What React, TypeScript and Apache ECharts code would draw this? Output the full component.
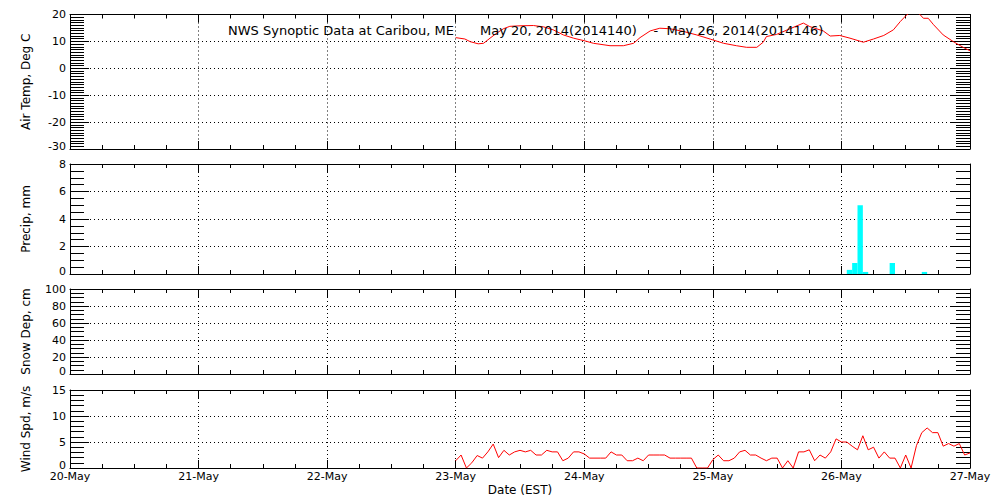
import React, { useEffect, useRef } from 'react';
import * as echarts from 'echarts';

// ---- Data (hours since 20-May 00:00 EST) ----
const dayLabels = ['20-May', '21-May', '22-May', '23-May', '24-May', '25-May', '26-May', '27-May'];

const tempHours = [
  72.0, 73.7, 74.7, 76.2, 77.2, 78.4, 79.6, 80.9, 82.1, 84.0, 86.5, 88.4, 90.2, 92.1, 94.0,
  96.1, 97.7, 100.8, 103.3, 105.2, 106.4, 108.3, 110.1, 112.0, 114.5, 117.0, 119.6, 122.0,
  124.4, 126.3, 128.2, 129.4, 130.0, 131.9, 134.4, 136.9, 138.1, 140.6, 141.9, 143.7, 145.6,
  148.1, 150.0, 151.9, 153.7, 155.0, 156.2, 157.0, 158.2, 158.7, 159.3, 160.2, 161.2, 163.0,
  164.9, 166.8, 168.0,
];
const tempValues = [
  11.4, 10.9, 9.9, 9.1, 9.3, 11.2, 13.0, 14.7, 15.6, 15.8, 15.9, 15.4, 14.3, 12.4, 11.2,
  10.2, 9.3, 8.4, 8.4, 9.3, 11.4, 13.9, 14.9, 14.7, 13.7, 12.4, 10.8, 9.3,
  8.4, 7.8, 7.8, 9.7, 11.8, 12.6, 14.7, 16.8, 15.5, 13.9, 12.0, 12.2, 11.2,
  9.7, 10.9, 12.2, 14.3, 17.4, 19.9, 21.0, 21.0, 19.9, 18.6, 18.6, 16.2, 12.4,
  9.9, 7.7, 6.5,
];

const precipHours = [145, 146, 147, 148, 153, 159];
const precipValues = [0.3, 0.8, 5.0, 0.15, 0.8, 0.15];

const snowHours: number[] = [];
const snowValues: number[] = [];

const windStartHour = 72;
const windValues = [
  1.4, 2.5, 0, 1.0, 2.4, 1.9, 3.1, 4.6, 2.0, 3.4,
  2.5, 3.1, 3.4, 3.1, 3.4, 2.5, 2.5, 3.4, 3.1, 3.1,
  1.4, 1.9, 3.1, 3.1, 2.7, 1.9, 1.9, 1.9, 1.9, 3.1,
  2.5, 2.5, 1.4, 1.4, 1.9, 1.4, 2.5, 2.5, 2.5, 2.5,
  1.9, 1.9, 1.9, 1.9, 1.9, 0, 0, 0, 1.6, 2.5,
  1.4, 1.4, 1.9, 3.1, 3.4, 2.5, 2.5, 1.9, 1.4, 1.9,
  1.9, 0, 1.4, 0, 3.1, 3.1, 3.5, 1.4, 2.5, 1.9,
  3.1, 5.6, 5.0, 5.0, 4.2, 3.5, 6.2, 3.5, 4.0, 1.9,
  3.1, 1.9, 1.9, 0, 2.5, 0, 4.3, 6.8, 7.7, 6.8,
  6.8, 4.2, 4.7, 4.2, 4.7, 2.5, 2.9,
];

const titleLeft = 'NWS Synoptic Data at Caribou, ME';
const titleRight = 'May 20, 2014(2014140)    -  May 26, 2014(2014146)';
const xName = 'Date (EST)';

// ---- Layout ----
const FONT = 'DejaVu Sans';
const BLACK = '#000000';
const panels = [
  { top: 14.5, height: 134.5, min: -30, max: 20, interval: 10, minor: 10, name: 'Air Temp, Deg C' },
  { top: 164, height: 110, min: 0, max: 8, interval: 2, minor: 4, name: 'Precip, mm' },
  { top: 289, height: 85, min: 0, max: 100, interval: 20, minor: 4, name: 'Snow Dep, cm' },
  { top: 390, height: 78, min: 0, max: 15, interval: 5, minor: 5, name: 'Wind Spd, m/s' },
];

export default function App() {
  const ref = useRef<HTMLDivElement>(null);

  useEffect(() => {
    if (!ref.current) return;
    const chart = echarts.init(ref.current, undefined, { renderer: 'svg' });

    const grids = panels.map((p) => ({ left: 70, width: 900, top: p.top, height: p.height, containLabel: false }));

    const xAxes: any[] = [];
    const yAxes: any[] = [];
    panels.forEach((p, i) => {
      const isLast = i === panels.length - 1;
      const commonX = {
        gridIndex: i,
        type: 'value',
        min: 0,
        max: 168,
        interval: 24,
        axisLine: { show: true, onZero: false, lineStyle: { color: BLACK, width: 1 } },
        axisTick: { show: true, inside: true, length: 8, lineStyle: { color: BLACK, width: 1 } },
        minorTick: { show: true, splitNumber: 4, length: 4, lineStyle: { color: BLACK, width: 1 } },
      };
      xAxes.push({
        ...commonX,
        position: 'bottom',
        splitLine: { show: true, lineStyle: { color: BLACK, width: 1, type: [1, 3] } },
        axisLabel: isLast
          ? {
              show: true,
              margin: 3,
              fontFamily: FONT,
              fontSize: 11,
              color: BLACK,
              formatter: (v: number) => dayLabels[Math.round(v / 24)] ?? '',
            }
          : { show: false },
        name: isLast ? xName : '',
        nameLocation: 'middle',
        nameGap: 16,
        nameTextStyle: { fontFamily: FONT, fontSize: 12, color: BLACK },
      });
      xAxes.push({
        ...commonX,
        position: 'top',
        splitLine: { show: false },
        axisLabel: { show: false },
      });
      const commonY = {
        gridIndex: i,
        type: 'value',
        min: p.min,
        max: p.max,
        interval: p.interval,
        axisLine: { show: true, onZero: false, lineStyle: { color: BLACK, width: 1 } },
        axisTick: { show: true, inside: true, length: 19, lineStyle: { color: BLACK, width: 1 } },
        minorTick: { show: true, splitNumber: p.minor, length: 14, lineStyle: { color: BLACK, width: 1 } },
      };
      yAxes.push({
        ...commonY,
        position: 'left',
        splitLine: { show: true, lineStyle: { color: BLACK, width: 1, type: [1, 3] } },
        axisLabel: {
          show: true,
          margin: 4,
          fontFamily: FONT,
          fontSize: 11,
          color: BLACK,
          formatter: (v: number) => (v === p.min ? '{lo|' + v + '}' : String(v)),
          rich: {
            lo: { fontFamily: FONT, fontSize: 11, color: BLACK, padding: [0, 0, 6, 0] },
          },
        },
        name: p.name,
        nameLocation: 'middle',
        nameGap: 38,
        nameTextStyle: { fontFamily: FONT, fontSize: 12, color: BLACK },
      });
      yAxes.push({
        ...commonY,
        position: 'right',
        splitLine: { show: false },
        axisLabel: { show: false },
      });
    });

    const option: any = {
      animation: false,
      backgroundColor: '#ffffff',
      title: [
        {
          text: titleLeft,
          left: 228,
          top: 24,
          padding: 0,
          textStyle: { fontFamily: FONT, fontSize: 13, fontWeight: 'normal', color: BLACK },
        },
        {
          text: titleRight,
          left: 480,
          top: 24,
          padding: 0,
          textStyle: { fontFamily: FONT, fontSize: 13, fontWeight: 'normal', color: BLACK },
        },
      ],
      grid: grids,
      xAxis: xAxes,
      yAxis: yAxes,
      series: [
        {
          type: 'line',
          xAxisIndex: 0,
          yAxisIndex: 0,
          data: tempHours.map((h, k) => [h, tempValues[k]]),
          symbol: 'none',
          showSymbol: false,
          clip: true,
          lineStyle: { color: '#ff0000', width: 1 },
          z: 5,
        },
        {
          type: 'custom',
          xAxisIndex: 2,
          yAxisIndex: 2,
          coordinateSystem: 'cartesian2d',
          data: precipHours.map((h, k) => [h, h + 1, precipValues[k]]),
          encode: { x: [0, 1], y: 2 },
          renderItem: (params: any, api: any) => {
            const p0 = api.coord([api.value(0), 0]);
            const p1 = api.coord([api.value(1), api.value(2)]);
            return {
              type: 'rect',
              shape: { x: p0[0], y: p1[1], width: p1[0] - p0[0], height: p0[1] - p1[1] },
              style: { fill: '#00ffff' },
            };
          },
          z: 1,
        },
        {
          type: 'line',
          xAxisIndex: 4,
          yAxisIndex: 4,
          data: snowHours.map((h, k) => [h, snowValues[k]]),
          symbol: 'none',
          lineStyle: { color: '#ff0000', width: 1 },
        },
        {
          type: 'line',
          xAxisIndex: 6,
          yAxisIndex: 6,
          data: windValues.map((v, k) => [windStartHour + k, v]),
          symbol: 'none',
          showSymbol: false,
          clip: true,
          lineStyle: { color: '#ff0000', width: 1 },
          z: 5,
        },
      ],
    };

    chart.setOption(option);
    return () => {
      chart.dispose();
    };
  }, []);

  return (
    <div
      ref={ref}
      style={{ position: 'fixed', left: 0, top: 0, width: 1000, height: 500, background: '#fff' }}
    />
  );
}
